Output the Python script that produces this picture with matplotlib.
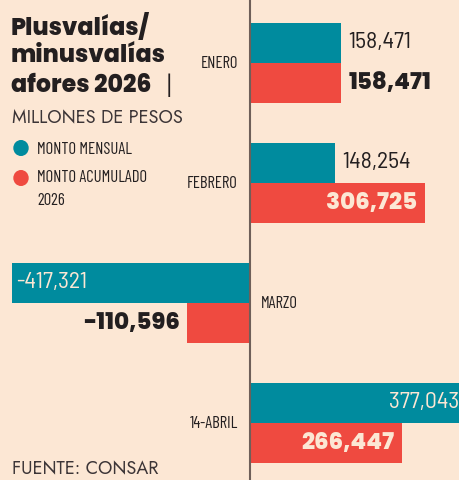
import matplotlib
matplotlib.use('Agg')
import matplotlib.pyplot as plt
from matplotlib.patches import Circle

months = ['ENERO', 'FEBRERO', 'MARZO', '14-ABRIL']
mensual = [158471, 148254, -417321, 377043]
acumulado = [158471, 306725, -110596, 266447]

bg = '#fce7d4'
teal = '#008b9e'
red = '#ef4a40'
dark = '#231f20'
cream = '#fce7d4'

W, H = 460, 480
fig = plt.figure(figsize=(W/100, H/100), dpi=100)
fig.patch.set_facecolor(bg)
ax = fig.add_axes([0, 0, 1, 1])
ax.set_facecolor(bg)
ax.set_xlim(-437500, 367500)
ax.set_ylim(3.475, -0.525)
ax.axis('off')

cond = dict(family='Barlow Condensed', fontweight='normal')
semi = dict(family='Barlow Semi Condensed', fontweight='normal')
heavy = dict(family='Poppins', fontweight=800)

def px(x, y):
    return x / W, 1 - y / H

for i, m in enumerate(months):
    ax.barh(i - 1/6, mensual[i], height=1/3, color=teal, lw=0)
    ax.barh(i + 1/6, acumulado[i], height=1/3, color=red, lw=0)

ax.axvline(0, color='#6e5f59', lw=1.5, zorder=5)

# month labels
for i, m in enumerate(months):
    if mensual[i] < 0:
        ax.annotate(m, (0, i), xytext=(11, 0), textcoords='offset pixels',
                    ha='left', va='center', fontsize=12, color=dark, **cond)
    else:
        ax.annotate(m, (0, i), xytext=(-12, 0), textcoords='offset pixels',
                    ha='right', va='center', fontsize=12, color=dark, **cond)

# value labels
def lab(v, y, inside, bold):
    txt = '{:,}'.format(v)
    kw = dict(va='center', textcoords='offset pixels')
    if bold:
        kw.update(heavy)
        kw['fontsize'] = 16.5
    else:
        kw.update(semi)
        kw['fontsize'] = 17
    if v >= 0:
        if inside:
            ax.annotate(txt, (v, y), xytext=(-8, 0), ha='right', color=cream, **kw)
        else:
            ax.annotate(txt, (v, y), xytext=(8, 0), ha='left', color=dark, **kw)
    else:
        if inside:
            ax.annotate(txt, (v, y), xytext=(5, 0), ha='left', color=cream, **kw)
        else:
            ax.annotate(txt, (v, y), xytext=(-7, 0), ha='right', color=dark, **kw)

lab(mensual[0], 0 - 1/6, False, False)
lab(acumulado[0], 0 + 1/6, False, True)
lab(mensual[1], 1 - 1/6, False, False)
lab(acumulado[1], 1 + 1/6, True, True)
lab(mensual[2], 2 - 1/6, True, False)
lab(acumulado[2], 2 + 1/6, False, True)
ax.annotate('{:,}'.format(mensual[3]), (367500, 3 - 1/6), xytext=(-1, 0),
            textcoords='offset pixels', ha='right', va='center', fontsize=17,
            color=cream, **semi)
lab(acumulado[3], 3 + 1/6, True, True)

# title block
for yy, s in [(28, 'Plusvalías/'), (57, 'minusvalías'), (86, 'afores 2026')]:
    fig.text(*px(11, yy), s, color=dark, va='center', ha='left',
             fontsize=17, **heavy)
fig.text(*px(166, 85), '|', family='Jost', fontsize=17, color=dark,
         va='center', ha='left')
fig.text(*px(12, 117), 'MILLONES DE PESOS', family='Jost',
         fontsize=13, color='#3c3537', va='center', ha='left')

# legend
for yy, c in [(148, teal), (178, red)]:
    fig.patches.append(Circle((21 / W, 1 - yy / H), 7 / W, color=c,
                              transform=fig.transFigure, figure=fig))
fig.text(*px(37, 149), 'MONTO MENSUAL', fontsize=12, color=dark,
         va='center', ha='left', **cond)
fig.text(*px(37, 178), 'MONTO ACUMULADO', fontsize=12, color=dark,
         va='center', ha='left', **cond)
fig.text(*px(37, 200), '2026', fontsize=12, color=dark,
         va='center', ha='left', **cond)

fig.text(*px(12, 469), 'FUENTE: CONSAR', family='Jost',
         fontsize=13, color='#3c3537', va='center', ha='left')

fig.savefig('out.png', dpi=100, facecolor=bg)
